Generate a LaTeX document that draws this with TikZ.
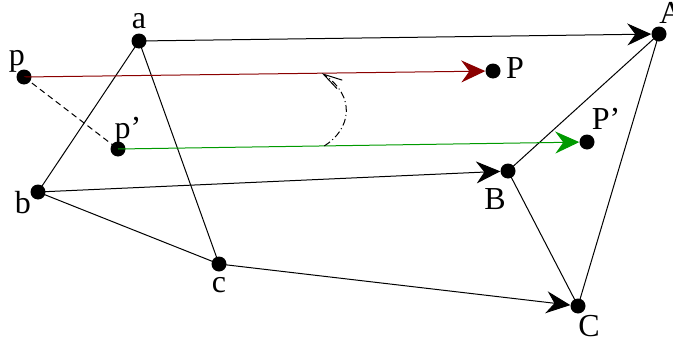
\documentclass[tikz,border=0pt]{standalone}
\usepackage{fontspec}
\setmainfont{Liberation Serif}
\usetikzlibrary{arrows.meta,bending}
\definecolor{dred}{HTML}{8B0000}
\definecolor{dgreen}{HTML}{009A00}
\tikzset{
  dot/.style={circle,fill=black,inner sep=0pt,minimum size=15pt},
  lbl/.style={inner sep=0pt,font=\fontsize{32}{34}\selectfont},
  edge/.style={line width=1pt},
  arr/.style={line width=1pt,-{Stealth[length=24pt,width=22pt,inset=8pt]}},
}
\begin{document}
\begin{tikzpicture}[x=1pt,y=-1pt]
\useasboundingbox (0,0) rectangle (673,343);
% points
\node[dot] (a) at (139,41) {};
\node[dot] (p) at (24,77) {};
\node[dot] (pp) at (118,149) {};
\node[dot] (b) at (38,192) {};
\node[dot] (c) at (219,264) {};
\node[dot] (A) at (659,34) {};
\node[dot] (P) at (493,71) {};
\node[dot] (PP) at (587,142) {};
\node[dot] (B) at (508,171) {};
\node[dot] (C) at (578,306) {};
% labels
\node[lbl] (la) at (139,21) {a};
\node[lbl] (lp) at (17,61) {p};
\node[lbl] (lpp) at (128,131) {p’};
\node[lbl] (lb) at (23,203) {b};
\node[lbl] (lc) at (219,285) {c};
\node[lbl] (lA) at (671,13) {A};
\node[lbl] (lP) at (515,68) {P};
\node[lbl] (lPP) at (606,119) {P’};
\node[lbl] (lB) at (495,199) {B};
\node[lbl] (lC) at (589,326) {C};
% triangles
\draw[edge] (a.center) -- (b.center) -- (c.center) -- cycle;
\draw[edge] (A.center) -- (B.center) -- (C.center) -- cycle;
% correspondences
\draw[arr] (a.center) -- (A);
\draw[arr] (b.center) -- (B);
\draw[arr] (c.center) -- (C);
\draw[arr,dred] (p.center) -- (P);
\draw[arr,dgreen] (pp.center) -- (PP);
\draw[edge,dash pattern=on 6pt off 4pt] (p.center) -- (pp.center);
% rotation arc
\path (pp.center) -- (PP.center) coordinate[pos=0.44] (g1);
\path (p.center) -- (P.center) coordinate[pos=0.635] (r1);
\draw[line width=1pt,dash pattern=on 7pt off 3pt on 1pt off 3pt,-{Straight Barb[length=19pt,width=10pt,flex=0]}]
  (g1) .. controls +(27,-17) and +(35,22) .. (r1);
\end{tikzpicture}
\end{document}
